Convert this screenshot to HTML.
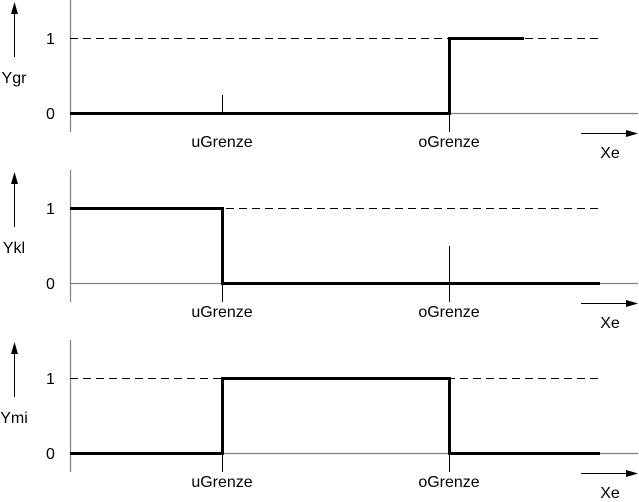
<!DOCTYPE html>
<html><head><meta charset="utf-8"><style>
html,body{margin:0;padding:0;background:#fff}
svg{display:block}
text{font-family:"Liberation Sans",Arial,sans-serif;font-size:16px;fill:#000}
</style></head><body>
<svg width="639" height="502" viewBox="0 0 639 502" xmlns="http://www.w3.org/2000/svg">
<defs>
<g id="base">
  <line x1="70.5" y1="0" x2="70.5" y2="132" stroke="#808080" stroke-width="1.2"/>
  <line x1="70" y1="113.5" x2="638" y2="113.5" stroke="#808080" stroke-width="1.2"/>
  <line x1="70" y1="38.5" x2="601" y2="38.5" stroke="#000" stroke-width="1" stroke-dasharray="8,5"/>
  <line x1="14.5" y1="12" x2="14.5" y2="57" stroke="#000" stroke-width="1"/>
  <polygon points="14.5,2 11,14 18,14" fill="#000"/>
  <line x1="581" y1="133.5" x2="628" y2="133.5" stroke="#000" stroke-width="1"/>
  <polygon points="638,133.5 626,130 626,137" fill="#000"/>
  <text x="46" y="44">1</text>
  <text x="46" y="119">0</text>
  <text x="222" y="147" text-anchor="middle">uGrenze</text>
  <text x="449" y="147" text-anchor="middle">oGrenze</text>
  <text x="610" y="158" text-anchor="middle">Xe</text>
</g>
</defs>

<use href="#base"/>
<text x="14" y="83" text-anchor="middle">Ygr</text>
<line x1="222.5" y1="95" x2="222.5" y2="113" stroke="#000" stroke-width="1"/>
<line x1="449.5" y1="113" x2="449.5" y2="132" stroke="#000" stroke-width="1"/>
<polyline points="70,113.5 449.5,113.5 449.5,38.5 524,38.5" fill="none" stroke="#000" stroke-width="3"/>

<g transform="translate(0,170)">
<use href="#base"/>
<text x="14" y="83" text-anchor="middle">Ykl</text>
<line x1="222.5" y1="113" x2="222.5" y2="132" stroke="#000" stroke-width="1"/>
<line x1="449.5" y1="76" x2="449.5" y2="132" stroke="#000" stroke-width="1"/>
<polyline points="70,38.5 222.5,38.5 222.5,113.5 600,113.5" fill="none" stroke="#000" stroke-width="3"/>
</g>

<g transform="translate(0,340)">
<use href="#base"/>
<text x="14" y="83" text-anchor="middle">Ymi</text>
<line x1="222.5" y1="113" x2="222.5" y2="132" stroke="#000" stroke-width="1"/>
<line x1="449.5" y1="113" x2="449.5" y2="132" stroke="#000" stroke-width="1"/>
<polyline points="70,113.5 222.5,113.5 222.5,38.5 449.5,38.5 449.5,113.5 600,113.5" fill="none" stroke="#000" stroke-width="3"/>
</g>
</svg>
</body></html>
